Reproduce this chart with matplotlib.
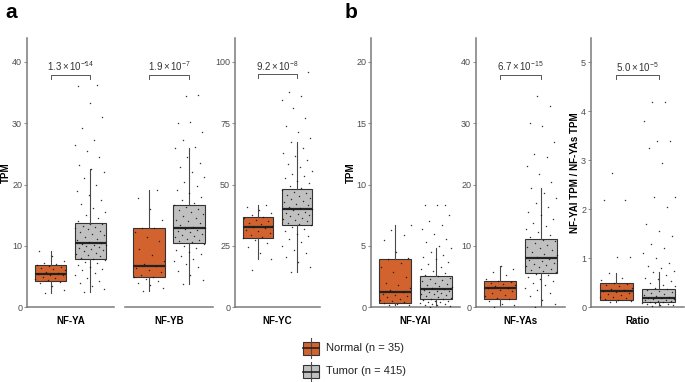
import numpy as np
import matplotlib
matplotlib.use("Agg")
import matplotlib.pyplot as plt
from matplotlib.patches import Rectangle
from matplotlib.lines import Line2D

plt.rcParams['font.family'] = ['Liberation Sans', 'DejaVu Sans']
plt.rcParams['mathtext.fontset'] = 'custom'
plt.rcParams['mathtext.rm'] = 'Liberation Sans'
plt.rcParams['mathtext.it'] = 'Liberation Sans:italic'

# ---------------------------------------------------------------- data
genes = ['NF-YA', 'NF-YB', 'NF-YC', 'NF-YAl', 'NF-YAs', 'Ratio']
groups = ['Normal (n = 35)', 'Tumor (n = 415)']
pvals = [r'$1.3\times10^{-14}$', r'$1.9\times10^{-7}$', r'$9.2\times10^{-8}$',
         None, r'$6.7\times10^{-15}$', r'$5.0\times10^{-5}$']

# box stats: [whislo, q1, med, q3, whishi]
normal_box = [
    [2.34, 4.35, 5.49, 6.9, 9.18],
    [2.7, 4.9, 6.74, 13.0, 19.2],
    [19.5, 28.2, 32.7, 36.6, 41.8],
    [0.19, 0.38, 1.25, 3.97, 6.68],
    [0.05, 1.36, 3.2, 4.3, 6.74],
    [0.1, 0.156, 0.33, 0.50, 0.70],
]
tumor_box = [
    [2.5, 7.83, 10.43, 13.7, 22.5],
    [3.75, 10.5, 13.0, 16.7, 25.9],
    [14.3, 33.7, 40.1, 48.0, 67.4],
    [0.1, 0.68, 1.47, 2.55, 4.86],
    [0.05, 5.54, 8.04, 11.1, 19.4],
    [0.03, 0.116, 0.18, 0.37, 0.71],
]

# individual (jittered) samples
normal_pts = [
    [2.3, 2.8, 3.5, 3.9, 4.2, 4.4, 4.6, 4.8, 5.0, 5.2, 5.3, 5.5, 5.6, 5.8,
     6.0, 6.2, 6.4, 6.6, 6.8, 6.9, 7.0, 7.2, 7.6, 8.3, 9.2],
    [2.7, 3.2, 3.6, 4.0, 4.3, 4.6, 4.9, 5.0, 5.3, 5.7, 6.0, 6.4, 6.7, 7.0,
     7.6, 8.5, 9.5, 10.8, 11.5, 12.3, 12.9, 13.0, 14.3, 16.0, 17.8, 19.2],
    [15.1, 19.5, 22.0, 24.5, 26.0, 27.3, 28.2, 28.6, 29.5, 30.3, 31.0, 31.6,
     32.2, 32.7, 33.2, 33.8, 34.3, 35.0, 35.6, 36.2, 36.6, 37.5, 38.5, 39.8,
     41.0, 41.8],
    [0.15, 0.2, 0.3, 0.35, 0.4, 0.5, 0.6, 0.7, 0.8, 0.9, 1.0, 1.1, 1.25, 1.4,
     1.6, 1.8, 2.0, 2.5, 2.9, 3.3, 3.6, 3.9, 4.0, 4.5, 5.5, 5.9, 6.3, 6.7],
    [0.1, 0.3, 0.6, 1.0, 1.3, 1.5, 1.8, 2.0, 2.3, 2.6, 2.9, 3.1, 3.2, 3.4,
     3.6, 3.8, 4.0, 4.2, 4.3, 4.6, 5.2, 5.7, 6.2, 6.7],
    [0.1, 0.12, 0.14, 0.16, 0.18, 0.2, 0.22, 0.25, 0.28, 0.3, 0.32, 0.33,
     0.35, 0.38, 0.4, 0.43, 0.46, 0.48, 0.5, 0.55, 0.6, 0.7, 1.03, 1.03,
     2.18, 2.18, 2.74],
]
tumor_pts = [
    [2.5, 3.0, 3.5, 3.9, 4.3, 4.8, 5.2, 5.6, 6.0, 6.3, 6.6, 6.9, 7.2, 7.4,
     7.7, 7.9, 8.1, 8.3, 8.5, 8.7, 8.9, 9.1, 9.3, 9.5, 9.7, 9.9, 10.0, 10.1,
     10.2, 10.3, 10.5, 10.7, 10.9, 11.2, 11.5, 11.8, 12.0, 12.2, 12.5, 12.7,
     12.9, 13.1, 13.3, 13.5, 13.6, 14.0, 14.5, 15.0, 15.6, 16.2, 16.8, 17.5,
     18.3, 19.0, 20.0, 21.0, 22.0, 22.5, 23.2, 24.5, 25.5, 26.5, 27.3, 29.3,
     31.0, 33.3, 36.1, 36.2, 40.0],
    [3.75, 4.5, 5.2, 5.9, 6.5, 7.0, 7.5, 7.9, 8.3, 8.7, 9.0, 9.4, 9.7, 10.0,
     10.3, 10.6, 10.8, 11.0, 11.2, 11.4, 11.6, 11.8, 12.0, 12.2, 12.4, 12.6,
     12.8, 12.9, 13.1, 13.4, 13.7, 14.0, 14.3, 14.6, 14.9, 15.2, 15.5, 15.8,
     16.1, 16.4, 16.6, 17.0, 17.5, 18.0, 18.6, 19.2, 19.8, 20.5, 21.2, 22.0,
     22.8, 23.6, 24.5, 25.9, 26.2, 27.3, 28.5, 30.2, 30.0, 34.6, 34.5],
    [14.3, 16.5, 18.5, 20.5, 22.0, 23.5, 25.0, 26.5, 27.8, 29.0, 30.0, 31.0,
     32.0, 32.8, 33.4, 34.0, 34.5, 35.0, 35.5, 36.0, 36.5, 37.0, 37.5, 38.0,
     38.5, 39.0, 39.5, 39.9, 40.4, 41.0, 41.6, 42.2, 42.8, 43.4, 44.0, 44.6,
     45.2, 45.8, 46.4, 47.0, 47.7, 48.5, 49.5, 50.5, 51.5, 52.5, 53.5, 54.5,
     55.7, 57.0, 58.5, 60.0, 61.5, 63.0, 65.0, 67.4, 69.0, 71.5, 74.0, 77.0,
     81.0, 84.5, 86.0, 87.9, 95.8],
    [0.05, 0.1, 0.15, 0.2, 0.25, 0.3, 0.35, 0.4, 0.45, 0.5, 0.55, 0.6, 0.65,
     0.7, 0.78, 0.85, 0.92, 1.0, 1.06, 1.12, 1.18, 1.24, 1.3, 1.36, 1.42,
     1.5, 1.58, 1.66, 1.75, 1.84, 1.93, 2.02, 2.12, 2.22, 2.32, 2.42, 2.52,
     2.65, 2.8, 2.95, 3.1, 3.3, 3.5, 3.7, 3.9, 4.1, 4.3, 4.5, 4.86, 5.0, 5.3,
     5.6, 6.0, 6.4, 6.7, 7.0, 7.5, 8.3, 8.3, 8.3],
    [0.1, 0.6, 1.2, 1.8, 2.3, 2.8, 3.2, 3.6, 4.0, 4.3, 4.6, 4.9, 5.2, 5.4,
     5.7, 5.9, 6.1, 6.3, 6.5, 6.7, 6.9, 7.1, 7.3, 7.5, 7.7, 7.9, 8.2, 8.5,
     8.7, 9.0, 9.3, 9.6, 9.9, 10.2, 10.5, 10.8, 11.0, 11.4, 11.8, 12.3, 12.8,
     13.3, 13.8, 14.4, 15.0, 15.6, 16.3, 17.0, 17.8, 18.6, 19.4, 20.5, 21.8,
     23.0, 24.5, 25.0, 27.0, 29.5, 30.0, 32.8, 34.4],
    [0.03, 0.04, 0.05, 0.06, 0.07, 0.08, 0.09, 0.1, 0.11, 0.12, 0.13, 0.14,
     0.15, 0.16, 0.17, 0.18, 0.19, 0.21, 0.23, 0.25, 0.27, 0.29, 0.31, 0.33,
     0.35, 0.37, 0.4, 0.43, 0.46, 0.5, 0.53, 0.57, 0.6, 0.65, 0.71, 0.75,
     0.8, 0.85, 0.9, 1.0, 1.1, 1.2, 1.3, 1.45, 1.55, 1.7, 2.05, 2.25, 2.25,
     2.95, 3.25, 3.4, 3.4, 3.8, 4.18, 4.18],
]

ylims = [43.9, 43.9, 109.7, 21.95, 43.9, 5.49]
yticks = [[0, 10, 20, 30, 40], [], [0, 25, 50, 75, 100],
          [0, 5, 10, 15, 20], [0, 10, 20, 30, 40], [0, 1, 2, 3, 4, 5]]
ylabels = ['TPM', None, None, 'TPM', None, 'NF-YAl TPM / NF-YAs TPM']
bracket_y = [37.9, 37.9, 95.0, None, 37.9, 4.73]

# ---------------------------------------------------------------- layout
W, H = 685, 382
fig = plt.figure(figsize=(W / 100, H / 100), dpi=100)
ybot, ytop = 307.3, 38
panels_px = [(27, 114), (125, 213), (235, 320), (371, 460), (476, 565), (591, 684)]
ylabel_x = [-0.19, None, None, -0.174, None, -0.113]

col_normal = '#d2632f'
col_tumor = '#c0c0c0'
edge = '#333333'
axcol = '#7a7a7a'


def jitter(n):
    return ((np.arange(n) * 0.6180339887 + 0.31) % 1 - 0.5) * 0.8


for i, g in enumerate(genes):
    x0, x1 = panels_px[i]
    ax = fig.add_axes([x0 / W, 1 - ybot / H, (x1 - x0) / W, (ybot - ytop) / H])
    stats = []
    for b in (normal_box[i], tumor_box[i]):
        stats.append(dict(whislo=b[0], q1=b[1], med=b[2], q3=b[3], whishi=b[4], fliers=[]))
    bp = ax.bxp(stats, positions=[1, 2], widths=0.78, patch_artist=True,
                showcaps=False, showfliers=False,
                boxprops=dict(edgecolor=edge, linewidth=0.8),
                whiskerprops=dict(color='#4a4a4a', linewidth=0.8),
                medianprops=dict(color='#222222', linewidth=1.6))
    bp['boxes'][0].set_facecolor(col_normal)
    bp['boxes'][1].set_facecolor(col_tumor)

    for pos, pts in ((1, normal_pts[i]), (2, tumor_pts[i])):
        pts = np.asarray(pts)
        ax.scatter(pos + jitter(len(pts)), pts, s=1.1, color='#111111',
                   alpha=0.85, linewidths=0, zorder=5)

    ax.set_xlim(0.4, 2.6)
    ax.set_ylim(0, ylims[i])
    ax.set_xticks([])
    ax.set_xlabel(g, fontsize=7, fontweight='bold', labelpad=6)
    for s in ('top', 'right'):
        ax.spines[s].set_visible(False)
    ax.spines['bottom'].set_color(axcol)
    ax.spines['bottom'].set_linewidth(1.1)
    if yticks[i]:
        ax.set_yticks(yticks[i])
        ax.spines['left'].set_color(axcol)
        ax.spines['left'].set_linewidth(1.1)
        ax.tick_params(axis='y', colors=axcol, labelcolor='#4d4d4d',
                       labelsize=6.5, length=2, width=0.6, pad=1.5)
    else:
        ax.spines['left'].set_visible(False)
        ax.set_yticks([])
    if ylabels[i]:
        ax.set_ylabel(ylabels[i], fontsize=7, fontweight='bold')
        ax.yaxis.set_label_coords(ylabel_x[i], 0.5)
    if bracket_y[i] is not None:
        by = bracket_y[i]
        tick = ylims[i] * 0.014
        ax.plot([1, 1, 2, 2], [by - tick, by, by, by - tick], color='#555555',
                linewidth=0.7, clip_on=False)
        ax.text(1.5, by + ylims[i] * 0.005, pvals[i], ha='center', va='bottom',
                fontsize=7, color='#333333')

fig.text(5 / W, 1 - 3 / H, 'a', fontsize=15, fontweight='bold', va='top', ha='left')
fig.text(345 / W, 1 - 3 / H, 'b', fontsize=15, fontweight='bold', va='top', ha='left')

# ---------------------------------------------------------------- legend
for j, (lab, col) in enumerate(zip(groups, [col_normal, col_tumor])):
    cy = 348 + j * 23.5
    bx0, bx1 = 303, 319
    fig.add_artist(Line2D([(bx0 + bx1) / 2 / W] * 2, [1 - (cy - 10) / H, 1 - (cy + 10) / H],
                          color='#4a4a4a', linewidth=0.8))
    fig.add_artist(Rectangle((bx0 / W, 1 - (cy + 6.5) / H), (bx1 - bx0) / W, 13 / H,
                             facecolor=col, edgecolor=edge, linewidth=0.8))
    fig.add_artist(Line2D([bx0 / W, bx1 / W], [1 - cy / H] * 2, color='#222222', linewidth=1.2))
    fig.text(326 / W, 1 - cy / H, lab, fontsize=8, va='center', ha='left', color='#222222')

fig.savefig('out.png', dpi=100)
